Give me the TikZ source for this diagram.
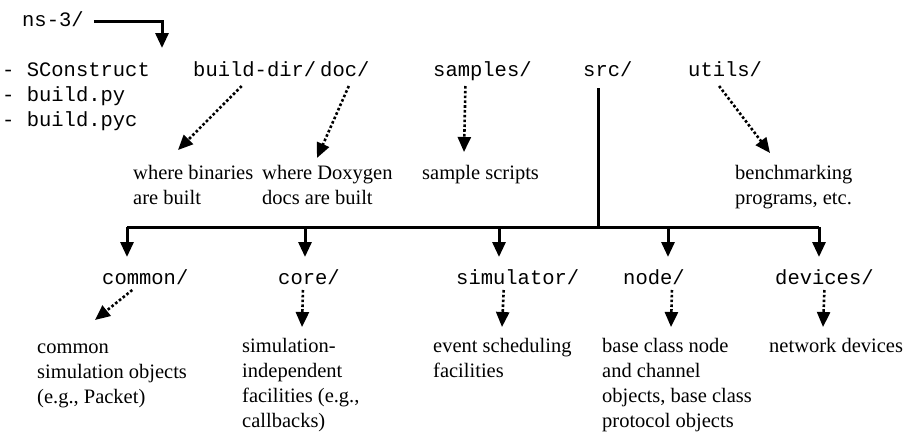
\documentclass[tikz,border=0pt]{standalone}
\usepackage{fontspec}
\setmainfont{Liberation Serif}
\setmonofont{Liberation Mono}
\usetikzlibrary{arrows.meta}

\newcommand{\desclines}[1]{\begin{tabular}[t]{@{}l@{}}#1\end{tabular}}

\begin{document}
\begin{tikzpicture}[x=1pt,y=-1pt,
  dir/.style={font=\fontsize{20.5}{25}\selectfont\ttfamily,inner sep=0pt,anchor=base west},
  desc/.style={font=\fontsize{20.5}{25.2}\selectfont,inner sep=0pt,anchor=base west},
  bar/.style={line width=3pt},
  tree/.style={bar,-{Triangle[length=15pt,width=13pt]}},
  hint/.style={line width=2.6pt,dash pattern=on 2.6pt off 2.2pt,-{Triangle[length=15pt,width=13pt]}}]
  \useasboundingbox (0,0) rectangle (907,431);
  % top level
  \node[dir] (ns3) at (22,26) {ns-3/};
  \coordinate (nsdrop) at (162,48);
  \draw[tree] ([xshift=10pt,yshift=5pt]ns3.base east) -| (nsdrop);
  \node[dir] (sconstruct) at (2,76) {- SConstruct};
  \node[dir] (buildpy) at (2,101) {- build.py};
  \node[dir] (buildpyc) at (2,126) {- build.pyc};
  \node[dir] (builddir) at (193,76) {build-dir/};
  \node[dir] (doc) at (320,76) {doc/};
  \node[dir] (samples) at (433,76) {samples/};
  \node[dir] (src) at (583,76) {src/};
  \node[dir] (utils) at (688,76) {utils/};
  % what the top folders hold
  \node[desc] (binaries) at (133,179) {\desclines{where binaries\\are built}};
  \node[desc] (doxygen) at (262,179) {\desclines{where Doxygen\\docs are built}};
  \node[desc] (scripts) at (422,179) {\desclines{sample scripts}};
  \node[desc] (bench) at (735,179) {\desclines{benchmarking\\programs, etc.}};
  \draw[hint] ([xshift=-13pt,yshift=-10pt]builddir.base) -- ([xshift=45pt,yshift=29pt]binaries.base west);
  \draw[hint] ([xshift=4pt,yshift=-10pt]doc.base) -- ([xshift=55pt,yshift=21pt]doxygen.base west);
  \draw[hint] ([xshift=-17pt,yshift=-10pt]samples.base) -- ([xshift=42pt,yshift=27pt]scripts.base west);
  \draw[hint] ([xshift=-6pt,yshift=-10pt]utils.base) -- ([xshift=35pt,yshift=26pt]bench.base west);
  % src subtree
  \coordinate (bus) at (598,227);
  \draw[bar] ([yshift=-12pt]src.base -| bus) -- (bus);
  \draw[bar] (127,227) -- (819,227);
  \node[dir] (common) at (102,284) {common/};
  \node[dir] (core) at (278,284) {core/};
  \node[dir] (simulator) at (456,284) {simulator/};
  \node[dir] (node) at (623,284) {node/};
  \node[dir] (devices) at (775,284) {devices/};
  \foreach \d/\bx in {common/127,core/305,simulator/499,node/668,devices/819}
    \draw[tree] (bus -| \bx,0) -- (\bx,257);
  % what the src folders hold
  \node[desc] (commondesc) at (37,353) {\desclines{common\\simulation objects\\(e.g., Packet)}};
  \node[desc] (coredesc) at (242,352) {\desclines{simulation-\\independent\\facilities (e.g.,\\callbacks)}};
  \node[desc] (simdesc) at (433,352) {\desclines{event scheduling\\facilities}};
  \node[desc] (nodedesc) at (602,352) {\desclines{base class node\\and channel\\objects, base class\\protocol objects}};
  \node[desc] (devdesc) at (769,352) {\desclines{network devices}};
  \draw[hint] ([xshift=-13pt,yshift=-6pt]common.base) -- ([xshift=58pt,yshift=33pt]commondesc.base west);
  \draw[hint] ([xshift=-6pt,yshift=-6pt]core.base) -- ([xshift=60pt,yshift=25pt]coredesc.base west);
  \draw[hint] ([xshift=-14pt,yshift=-6pt]simulator.base) -- ([xshift=69pt,yshift=25pt]simdesc.base west);
  \draw[hint] ([xshift=18pt,yshift=-6pt]node.base) -- ([xshift=69pt,yshift=25pt]nodedesc.base west);
  \draw[hint] ([xshift=0pt,yshift=-6pt]devices.base) -- ([xshift=54pt,yshift=25pt]devdesc.base west);
\end{tikzpicture}
\end{document}
